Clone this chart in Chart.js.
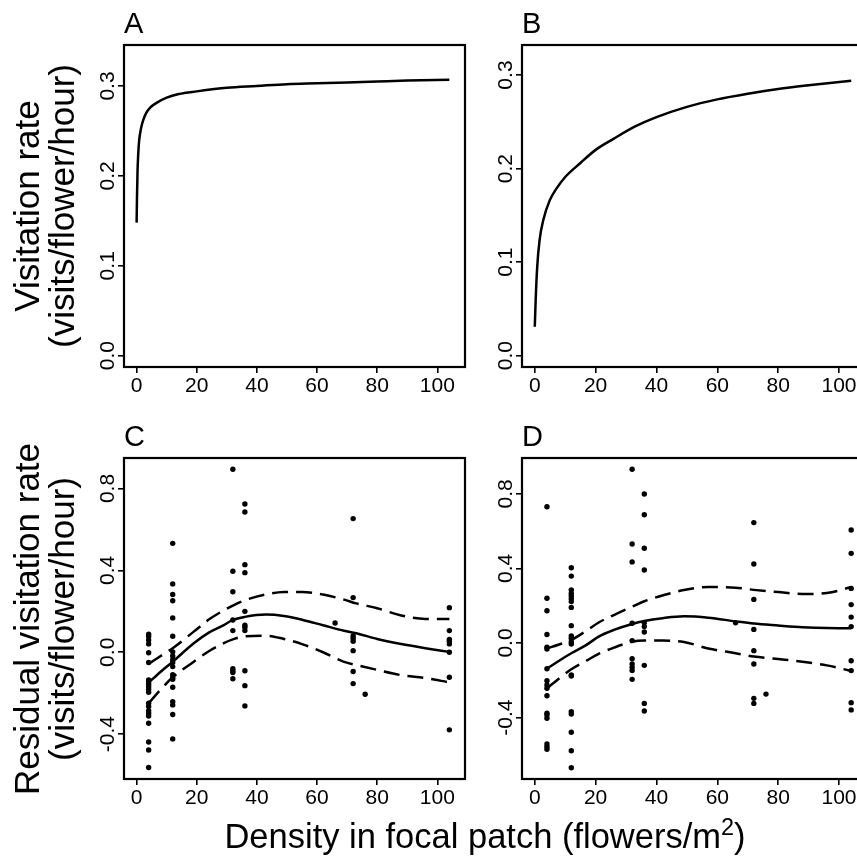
<!DOCTYPE html>
<html>
<head>
<meta charset="utf-8">
<script src="https://cdn.jsdelivr.net/npm/chart.js@4"></script>
<style>
  html, body { margin: 0; padding: 0; background: #fff; overflow: hidden; }
  #wrap { position: relative; width: 857px; height: 860px; overflow: hidden; }
  canvas { position: absolute; }
  .ytitle {
    position: absolute; width: 460px; height: 70px; line-height: 35px;
    text-align: center; white-space: nowrap; color: #000;
    font-family: Arial, "Liberation Sans", sans-serif; font-size: 35px;
    transform: rotate(-90deg);
  }
  .xtitle {
    position: absolute; left: 85px; width: 800px; top: 819px; line-height: 34.5px;
    text-align: center; white-space: nowrap; color: #000;
    font-family: Arial, "Liberation Sans", sans-serif; font-size: 34.5px;
  }
  .xtitle sup { font-size: 0.68em; line-height: 0; vertical-align: 13px; }
</style>
</head>
<body>
<div id="wrap">
  <canvas id="panelA"></canvas>
  <canvas id="panelB"></canvas>
  <canvas id="panelC"></canvas>
  <canvas id="panelD"></canvas>
  <div class="ytitle" style="left:-186px; top:171px;">Visitation rate<br>(visits/flower/hour)</div>
  <div class="ytitle" style="left:-186px; top:584px;">Residual visitation rate<br>(visits/flower/hour)</div>
  <div class="xtitle">Density in focal patch (flowers/m<sup>2</sup>)</div>
</div>
<script>
// axis ticks
const densityTicks = [0, 20, 40, 60, 80, 100];
const rateTicks = [0, 0.1, 0.2, 0.3];
const rateLabels = ["0.0", "0.1", "0.2", "0.3"];
const residTicks = [-0.4, 0, 0.4, 0.8];
const residLabels = ["-0.4", "0.0", "0.4", "0.8"];

// panel A: fitted visitation rate
const aDensity = [0, 0.1, 0.3, 0.5, 0.8, 1.2, 1.6, 2.2, 3.2, 4.5, 6.5, 10, 14, 20, 30, 40, 50, 60, 70, 80, 90, 104];
const aRate = [0.148, 0.173, 0.205, 0.222, 0.238, 0.248, 0.255, 0.262, 0.270, 0.276, 0.281, 0.287, 0.291, 0.294, 0.298, 0.300, 0.302, 0.303, 0.304, 0.305, 0.306, 0.307];

// panel B: fitted visitation rate
const bDensity = [0, 0.3, 0.8, 1.6, 2.8, 4.9, 7, 10, 15, 20, 26, 33, 40, 50, 60, 70, 80, 90, 104];
const bRate = [0.031, 0.060, 0.095, 0.124, 0.145, 0.166, 0.178, 0.191, 0.206, 0.220, 0.232, 0.245, 0.255, 0.266, 0.274, 0.280, 0.285, 0.289, 0.294];

// patch densities where residuals were measured
const patchDensity = [4, 12, 32, 36, 66, 72, 76, 104];

// panel C residuals, one row per patch density
const cResiduals = [
  [0.088, 0.077, 0.060, 0.041, -0.002, -0.050, -0.135, -0.145, -0.156, -0.168, -0.181, -0.195, -0.249, -0.265, -0.285, -0.298, -0.311, -0.347, -0.438, -0.477, -0.563],
  [0.532, 0.334, 0.282, 0.252, 0.168, 0.078, 0.002, -0.018, -0.037, -0.050, -0.070, -0.109, -0.122, -0.132, -0.171, -0.241, -0.257, -0.304, -0.423],
  [0.894, 0.396, 0.296, 0.158, 0.106, -0.080, -0.090, -0.099, -0.129],
  [0.724, 0.685, 0.428, 0.389, 0.200, 0.132, 0.122, 0.106, -0.090, -0.163, -0.262],
  [0.143],
  [0.653, 0.267, 0.080, 0.067, 0.054, 0.008, -0.094, -0.153],
  [-0.205],
  [0.218, 0.106, 0.063, 0.054, 0.041, 0.0, -0.122, -0.379]
];
const cFitDensity = [4, 8, 12, 19, 24, 29, 32, 36, 43, 49, 55, 62, 69, 73, 80, 88, 96, 104];
const cFit = [-0.148, -0.095, -0.046, 0.044, 0.096, 0.133, 0.158, 0.173, 0.184, 0.177, 0.159, 0.132, 0.105, 0.093, 0.065, 0.040, 0.020, 0.002];
const cUpper = [-0.057, -0.018, 0.020, 0.101, 0.160, 0.205, 0.228, 0.254, 0.283, 0.294, 0.295, 0.282, 0.257, 0.239, 0.215, 0.180, 0.163, 0.163];
const cLower = [-0.249, -0.182, -0.122, -0.046, 0.005, 0.045, 0.063, 0.078, 0.081, 0.065, 0.040, 0.000, -0.047, -0.062, -0.086, -0.112, -0.126, -0.147];

// panel D residuals, one row per patch density
const dResiduals = [
  [0.731, 0.240, 0.173, 0.046, -0.023, -0.032, -0.138, -0.202, -0.225, -0.243, -0.283, -0.377, -0.386, -0.404, -0.542, -0.556, -0.570],
  [0.404, 0.359, 0.284, 0.266, 0.252, 0.238, 0.222, 0.191, 0.093, 0.038, 0.025, 0.007, -0.005, -0.172, -0.177, -0.368, -0.381, -0.479, -0.578, -0.669],
  [0.932, 0.531, 0.435, 0.106, 0.013, -0.084, -0.113, -0.131, -0.148, -0.195],
  [0.799, 0.688, 0.508, 0.392, 0.109, 0.088, 0.059, -0.120, -0.324, -0.365],
  [0.109],
  [0.646, 0.424, 0.234, 0.073, -0.041, -0.113, -0.297, -0.324],
  [-0.274],
  [0.606, 0.481, 0.293, 0.206, 0.139, 0.088, -0.095, -0.148, -0.320, -0.359]
];
const dFitDensity = [4, 8, 12, 17, 21, 26, 32, 36, 42, 49, 57, 66, 72, 80, 88, 96, 104];
const dFit = [-0.138, -0.095, -0.055, -0.010, 0.034, 0.070, 0.102, 0.118, 0.133, 0.143, 0.136, 0.116, 0.104, 0.094, 0.085, 0.080, 0.079];
const dUpper = [-0.029, -0.008, 0.016, 0.066, 0.110, 0.150, 0.195, 0.224, 0.255, 0.284, 0.300, 0.297, 0.285, 0.273, 0.263, 0.268, 0.300];
const dLower = [-0.243, -0.190, -0.141, -0.095, -0.058, -0.025, 0.007, 0.013, 0.013, 0.005, -0.029, -0.055, -0.073, -0.086, -0.100, -0.120, -0.150];

const FONT = 'Arial, "Liberation Sans", sans-serif';
const MARGIN = { left: 50, top: 45, right: 12, bottom: 40 };

function pairs(xs, ys) {
  return xs.map((x, i) => ({ x: x, y: ys[i] }));
}

function residualPoints(rows) {
  const pts = [];
  rows.forEach((row, i) => row.forEach(v => pts.push({ x: patchDensity[i], y: v })));
  return pts;
}

function curve(data, dashed) {
  return {
    type: "line",
    data: data,
    borderColor: "#000",
    borderWidth: 2.5,
    borderDash: dashed ? [16, 8] : [],
    pointRadius: 0,
    fill: false,
    cubicInterpolationMode: "monotone"
  };
}

function dots(data) {
  return {
    type: "scatter",
    data: data,
    pointRadius: 2.7,
    pointBackgroundColor: "#000",
    pointBorderWidth: 0,
    showLine: false
  };
}

// box, rotated y labels and panel letter
const framePlugin = {
  id: "frame",
  afterDraw(chart, args, opts) {
    const { ctx, chartArea: a, scales } = chart;
    ctx.save();
    ctx.strokeStyle = "#000";
    ctx.lineWidth = 2.2;
    ctx.strokeRect(a.left, a.top, a.right - a.left, a.bottom - a.top);
    ctx.fillStyle = "#000";
    ctx.font = "21px " + FONT;
    ctx.textAlign = "center";
    ctx.textBaseline = "alphabetic";
    opts.yTicks.forEach((v, i) => {
      ctx.save();
      ctx.translate(a.left - 10, scales.y.getPixelForValue(v));
      ctx.rotate(-Math.PI / 2);
      ctx.fillText(opts.yLabels[i], 0, 0);
      ctx.restore();
    });
    ctx.font = "29px " + FONT;
    ctx.textAlign = "left";
    ctx.fillText(opts.letter, a.left, a.top - 12);
    ctx.restore();
  }
};

function makePanel(id, box, xRange, yRange, yTicks, yLabels, letter, datasets) {
  const canvas = document.getElementById(id);
  const w = box.right - box.left + MARGIN.left + MARGIN.right;
  const h = box.bottom - box.top + MARGIN.top + MARGIN.bottom;
  canvas.width = w;
  canvas.height = h;
  canvas.style.width = w + "px";
  canvas.style.height = h + "px";
  canvas.style.left = (box.left - MARGIN.left) + "px";
  canvas.style.top = (box.top - MARGIN.top) + "px";

  return new Chart(canvas, {
    type: "line",
    data: { datasets: datasets },
    plugins: [framePlugin],
    options: {
      responsive: false,
      animation: false,
      events: [],
      layout: { padding: { left: 0, top: MARGIN.top, right: MARGIN.right, bottom: 0 } },
      plugins: {
        legend: { display: false },
        tooltip: { enabled: false },
        frame: { yTicks: yTicks, yLabels: yLabels, letter: letter }
      },
      scales: {
        x: {
          type: "linear",
          min: xRange[0],
          max: xRange[1],
          afterBuildTicks: s => { s.ticks = densityTicks.map(v => ({ value: v })); },
          afterFit: s => { s.height = MARGIN.bottom; },
          border: { display: false },
          grid: { drawOnChartArea: false, drawTicks: true, tickLength: 6, color: "#000", lineWidth: 1.6 },
          ticks: { color: "#000", padding: 1, maxRotation: 0, autoSkip: false, font: { family: FONT, size: 21 } }
        },
        y: {
          type: "linear",
          min: yRange[0],
          max: yRange[1],
          afterBuildTicks: s => { s.ticks = yTicks.map(v => ({ value: v })); },
          afterFit: s => { s.width = MARGIN.left; },
          border: { display: false },
          grid: { drawOnChartArea: false, drawTicks: true, tickLength: 6, color: "#000", lineWidth: 1.6 },
          ticks: { display: false }
        }
      }
    }
  });
}

makePanel("panelA", { left: 124, right: 465, top: 45, bottom: 367 }, [-4.2, 109.2], [-0.0126, 0.3456],
  rateTicks, rateLabels, "A", [curve(pairs(aDensity, aRate), false)]);

makePanel("panelB", { left: 522, right: 867, top: 45, bottom: 367 }, [-4.2, 109.2], [-0.0121, 0.3321],
  rateTicks, rateLabels, "B", [curve(pairs(bDensity, bRate), false)]);

makePanel("panelC", { left: 124, right: 465, top: 458, bottom: 779 }, [-4.2, 109.2], [-0.619, 0.949],
  residTicks, residLabels, "C", [
    dots(residualPoints(cResiduals)),
    curve(pairs(cFitDensity, cFit), false),
    curve(pairs(cFitDensity, cUpper), true),
    curve(pairs(cFitDensity, cLower), true)
  ]);

makePanel("panelD", { left: 522, right: 867, top: 458, bottom: 779 }, [-4.2, 109.2], [-0.7296, 0.9925],
  residTicks, residLabels, "D", [
    dots(residualPoints(dResiduals)),
    curve(pairs(dFitDensity, dFit), false),
    curve(pairs(dFitDensity, dUpper), true),
    curve(pairs(dFitDensity, dLower), true)
  ]);
</script>
</body>
</html>
